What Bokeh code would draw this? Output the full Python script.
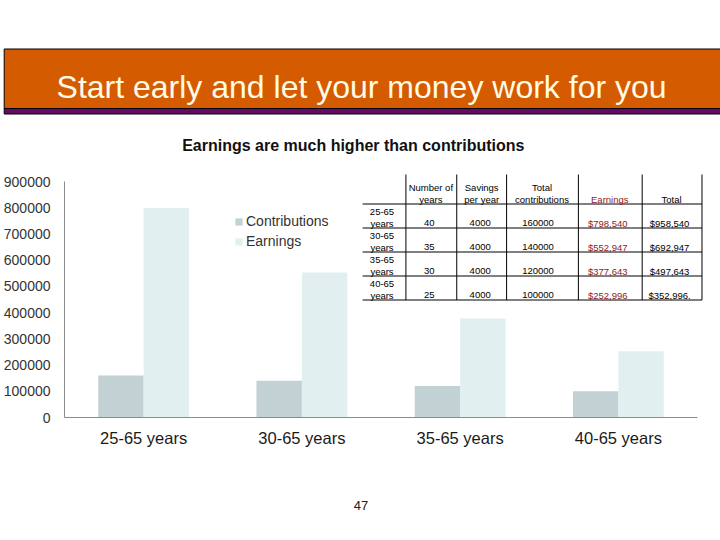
from bokeh.plotting import figure
from bokeh.models import (Range1d, FixedTicker, NumeralTickFormatter,
                          Legend, LegendItem, ColumnDataSource, LinearScale)
from bokeh.transform import dodge
from bokeh.layouts import column
from bokeh.core.properties import value
from bokeh.embed import file_html
from bokeh.resources import INLINE

# ---------------- data ----------------
title_text = "Start early and let your money work for you"
subtitle_text = "Earnings are much higher than contributions"
page_number = "47"

categories = ["25-65 years", "30-65 years", "35-65 years", "40-65 years"]
series_names = ["Contributions", "Earnings"]
contributions = [160000, 140000, 120000, 100000]
earnings = [798540, 552947, 377643, 252996]
y_ticks = [0, 100000, 200000, 300000, 400000, 500000, 600000, 700000, 800000, 900000]

row_ranges = ["25-65", "30-65", "35-65", "40-65"]
row_unit = "years"
years_saving = [40, 35, 30, 25]
savings_per_year = [4000, 4000, 4000, 4000]
total_labels = ["$958,540", "$692,947", "$497,643", "$352,996."]
header_top = ["Number of", "Savings", "Total", "", ""]
header_bottom = ["years", "per year", "contributions", "Earnings", "Total"]

# ---------------- style ----------------
FONT = "Liberation Sans"
ORANGE = "#D55B00"
PURPLE = "#640A64"
C_CONTRIB = "#C2D1D4"
C_EARN = "#E2EFF1"
AXIS_GRAY = "#8C8C8C"
DARK_RED = "#8B1C1C"

W = 720
FRAME_L, FRAME_R = 62, 697          # page x of the chart frame
BORDER_L, BORDER_R = FRAME_L, W - FRAME_R
OV = dict(level="overlay")


def blank(height, y_top, y_bottom):
    fig = figure(width=W, height=height, x_range=Range1d(FRAME_L, FRAME_R),
                 y_range=Range1d(y_bottom, y_top), x_axis_type=None, y_axis_type=None,
                 toolbar_location=None, output_backend="svg",
                 min_border_left=BORDER_L, min_border_right=BORDER_R,
                 min_border_top=0, min_border_bottom=0, outline_line_color=None)
    fig.grid.grid_line_color = None
    return fig


# ---------------- header (page y 0..165) ----------------
h = blank(165, 0, 165)
h.quad(left=[1.5], right=[730], top=[48.5], bottom=[108], fill_color=ORANGE,
       line_color="black", line_width=1, **OV)
h.quad(left=[1.5], right=[730], top=[108], bottom=[113.5], fill_color=PURPLE,
       line_color="black", line_width=1, **OV)
h.text(x=[360], y=[86], text=[title_text], text_font=value(FONT),
       text_font_size="32px", text_color="#FFFBE6", text_align="center",
       text_baseline="alphabetic", **OV)
h.text(x=[351.7], y=[145], text=[subtitle_text], text_font=value(FONT),
       text_font_size="16px", text_font_style="bold", text_color="#111111",
       text_align="center", text_baseline="alphabetic", **OV)

# ---------------- chart (page y 165..465) ----------------
n = len(categories)
cat_pos = [i + 0.5 for i in range(n)]

p = figure(width=W, height=300, x_range=Range1d(0, n),
           y_range=Range1d(0, 900000), toolbar_location=None, output_backend="svg",
           min_border_left=BORDER_L, min_border_right=BORDER_R, min_border_top=16,
           min_border_bottom=48, outline_line_color=None)
p.extra_x_ranges = {"px": Range1d(FRAME_L, FRAME_R)}
p.extra_x_scales = {"px": LinearScale()}
p.extra_y_ranges = {"py": Range1d(417, 181)}
p.extra_y_scales = {"py": LinearScale()}

src = ColumnDataSource(dict(pos=cat_pos, contributions=contributions, earnings=earnings))
r1 = p.vbar(x=dodge("pos", -0.1435), top="contributions", width=0.287,
            source=src, fill_color=C_CONTRIB, line_color=None)
r2 = p.vbar(x=dodge("pos", 0.1435), top="earnings", width=0.287,
            source=src, fill_color=C_EARN, line_color=None)

p.grid.grid_line_color = None
for ax in (p.xaxis, p.yaxis):
    ax.axis_line_color = AXIS_GRAY
    ax.major_tick_line_color = None
    ax.minor_tick_line_color = None
    ax.major_tick_out = 0
    ax.minor_tick_out = 0
    ax.major_label_text_font = FONT
p.xaxis.ticker = FixedTicker(ticks=cat_pos)
p.xaxis.major_label_overrides = {pos: c for pos, c in zip(cat_pos, categories)}
p.xaxis.major_label_text_font_size = "16.5px"
p.xaxis.major_label_text_color = "#1A1A1A"
p.xaxis.major_label_standoff = 11
p.yaxis.ticker = FixedTicker(ticks=y_ticks)
p.yaxis.formatter = NumeralTickFormatter(format="0")
p.yaxis.major_label_text_font_size = "14px"
p.yaxis.major_label_text_color = "#333333"
p.yaxis.major_label_standoff = 14

legend = Legend(items=[LegendItem(label=series_names[0], renderers=[r1]),
                       LegendItem(label=series_names[1], renderers=[r2])],
                location=(170, 166), padding=0, margin=0, spacing=0,
                glyph_width=9, glyph_height=9, label_standoff=3, label_height=20,
                label_text_font=FONT, label_text_font_size="14px",
                label_text_color="#333333", border_line_color=None,
                background_fill_alpha=0)
p.add_layout(legend)

# ---------------- table (page pixel coordinates) ----------------
col_edges = [404.5, 455.5, 505.5, 577.5, 641.5, 701.5]
row_edges = [203.5, 227.5, 251.5, 275.5, 299.5]
table_top = 174
tbl = dict(x_range_name="px", y_range_name="py", level="overlay")

p.segment(x0=col_edges, x1=col_edges, y0=[table_top] * len(col_edges),
          y1=[row_edges[-1]] * len(col_edges), line_color="black", line_width=1, **tbl)
p.segment(x0=[361] * len(row_edges), x1=[col_edges[-1]] * len(row_edges),
          y0=row_edges, y1=row_edges, line_color="black", line_width=1, **tbl)

head_x = [429.5, 480.5, 541, 609, 671]
hdr_colors = ["black", "black", "black", DARK_RED, "black"]
p.text(x=head_x, y=[187] * 5, text=header_top, text_font=value(FONT),
       text_font_size="9.5px", text_color="black", text_align="center",
       text_baseline="middle", **tbl)
p.text(x=head_x, y=[198.5] * 5, text=header_bottom, text_font=value(FONT),
       text_font_size="9.5px", text_color=hdr_colors, text_align="center",
       text_baseline="middle", **tbl)

row_tops = row_edges[:-1]
p.text(x=[380.5] * 4, y=[t + 7.5 for t in row_tops], text=row_ranges,
       text_font=value(FONT), text_font_size="9.5px", text_color="black",
       text_align="center", text_baseline="middle", **tbl)
p.text(x=[380.5] * 4, y=[t + 19 for t in row_tops], text=[row_unit] * 4,
       text_font=value(FONT), text_font_size="9.5px", text_color="black",
       text_align="center", text_baseline="middle", **tbl)

val_x = [428, 479, 537, 607, 669]
columns_text = [
    [str(v) for v in years_saving],
    [str(v) for v in savings_per_year],
    [str(v) for v in contributions],
    ["${:,}".format(v) for v in earnings],
    total_labels,
]
for i, vals in enumerate(columns_text):
    p.text(x=[val_x[i]] * 4, y=[t + 19 for t in row_tops], text=vals,
           text_font=value(FONT), text_font_size="9.5px",
           text_color=DARK_RED if i == 3 else "black",
           text_align="center", text_baseline="middle", **tbl)

# ---------------- footer (page y 465..540) ----------------
f = blank(75, 465, 540)
f.text(x=[359.5], y=[504.5], text=[page_number], text_font=value(FONT),
       text_font_size="13px", text_color="#222222", text_align="center",
       text_baseline="middle", **OV)

layout = column(h, p, f)
open("out.html", "w").write(file_html(layout, INLINE))
